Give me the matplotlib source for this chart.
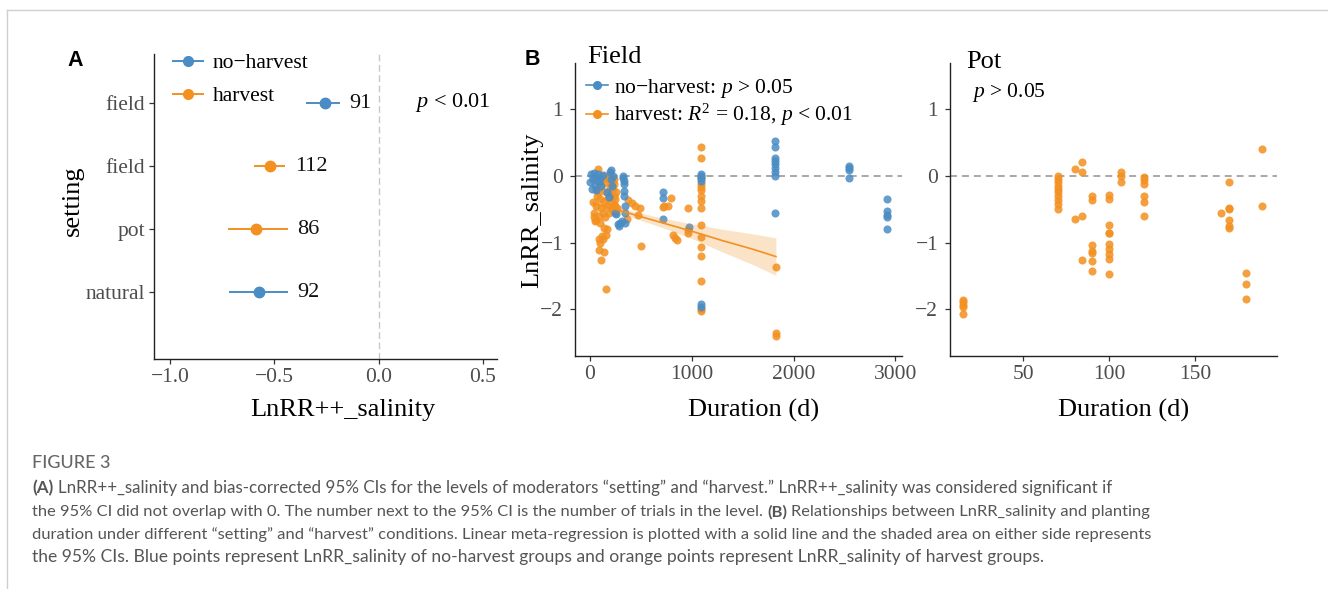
import matplotlib
matplotlib.use("Agg")
import matplotlib.pyplot as plt
from matplotlib.lines import Line2D

plt.rcParams["font.family"] = ["Liberation Serif", "DejaVu Serif"]
plt.rcParams["mathtext.fontset"] = "custom"
plt.rcParams["mathtext.rm"] = "Liberation Serif"
plt.rcParams["mathtext.it"] = "Liberation Serif:italic"
plt.rcParams["lines.scale_dashes"] = False

# ---------------- data ----------------
# Panel A (top to bottom)
a_setting = ["field", "field", "pot", "natural"]
a_group = ["no-harvest", "harvest", "harvest", "no-harvest"]
a_est = [-0.258, -0.519, -0.587, -0.574]
a_lo = [-0.349, -0.596, -0.721, -0.716]
a_hi = [-0.186, -0.449, -0.437, -0.437]
a_n = [91, 112, 86, 92]

# Panel B, Field, no-harvest
field_nh_x = [5, 12, 20, 28, 35, 45, 55, 62, 75, 85, 95, 110, 125,
              170, 190, 200, 205, 210, 215, 225, 250, 260, 280, 290, 300, 310,
              320, 325, 330, 330, 335, 335, 340, 340, 345,
              720, 720, 720, 970, 1095, 1095, 1095, 1095, 1095, 1095,
              1820, 1820, 1820, 1820, 1820, 1820, 1820, 1820, 1820,
              2550, 2550, 2550, 2550, 2920, 2920, 2920, 2920, 2920]
field_nh_y = [-0.10, 0.02, -0.20, -0.05, 0.04, -0.14, -0.02, -0.22, 0.03, -0.10, -0.03, -0.16, 0.01,
              -0.25, -0.32, 0.05, 0.08, -0.05, -0.15, 0.00, -0.55, -0.57, -0.72, -0.75, -0.70, -0.68,
              0.00, -0.03, -0.08, -0.13, -0.23, -0.30, -0.45, -0.55, -0.70,
              -0.24, -0.34, -0.64, -0.77, 0.03, 0.00, -0.04, -0.08, -1.92, -1.97,
              0.52, 0.43, 0.27, 0.22, 0.17, 0.12, 0.06, 0.00, -0.55,
              0.15, 0.11, 0.09, -0.03, -0.35, -0.53, -0.58, -0.61, -0.80]

# Panel B, Field, harvest
field_h_x = [30, 35, 40, 45, 55, 60, 70, 75, 80, 80, 85, 85, 90, 90, 95, 100, 100, 105,
             110, 110, 115, 120, 125, 128, 130, 135, 140, 140, 145, 150, 155, 160, 160,
             165, 170, 175, 180, 190, 195, 200, 205, 210, 215, 220, 230, 240, 245, 250,
             255, 260, 270, 240, 240, 235,
             361, 377, 409, 442, 475, 491, 501,
             720, 727, 769, 799, 819, 835, 851, 966, 966, 966,
             1095, 1095, 1095, 1095, 1095, 1095, 1095, 1095, 1095, 1095, 1095, 1095,
             1095, 1095, 1095, 1095, 1827, 1827, 1827]
field_h_y = [-0.40, -0.55, -0.62, -0.68, -0.45, -0.66, -0.30, -0.20, 0.10, -0.08, -0.95,
             -1.11, -0.25, -0.60, -0.35, -1.00, -0.70, -0.15, -1.26, -0.48, -0.05, -0.90,
             -0.55, -0.94, 0.00, -0.38, -1.14, -0.78, -0.10, -0.62, -0.25, -1.69, -0.89,
             -0.45, -0.80, -0.05, -0.33, -0.55, 0.02, -0.15, -0.40, -0.28, -0.50, -0.10,
             -0.20, -0.05, -0.45, -0.35, -0.25, -0.52, -0.48, -0.12, -0.30, -0.42,
             -0.64, -0.36, -0.41, -0.46, -0.59, -0.49, -1.05,
             -0.47, -0.45, -0.46, -0.34, -0.89, -0.93, -0.96, -0.49, -0.81, -0.86,
             0.43, 0.26, -0.04, -0.12, -0.17, -0.21, -0.30, -0.38, -0.48, -0.73,
             -0.91, -1.07, -1.20, -1.57, -2.00, -2.03, -1.37, -2.36, -2.40]

# regression line and 95% CI band (harvest, field)
fit_x = [30, 250, 450, 700, 1000, 1300, 1600, 1827]
fit_y = [-0.41, -0.50, -0.59, -0.70, -0.83, -0.97, -1.10, -1.21]
fit_lo = [-0.50, -0.55, -0.64, -0.77, -0.94, -1.14, -1.33, -1.49]
fit_hi = [-0.32, -0.45, -0.54, -0.63, -0.72, -0.80, -0.87, -0.93]

# Panel B, Pot (harvest)
pot_x = [15, 15, 15, 15, 15,
         70, 70, 70, 70, 70, 70, 70, 70, 70, 70,
         80, 80, 84, 84, 84, 84,
         90, 90, 90, 90, 90, 90, 90,
         100, 100, 100, 100, 100, 100, 100, 100, 100, 100,
         107, 107, 107,
         120, 120, 120, 120, 120, 120,
         165, 170, 170, 170, 170, 170, 170,
         180, 180, 180, 189, 189]
pot_y = [-1.86, -1.89, -1.93, -1.97, -2.07,
         0.00, -0.05, -0.10, -0.15, -0.20, -0.25, -0.30, -0.37, -0.42, -0.50,
         0.10, -0.65, 0.20, 0.05, -0.60, -1.26,
         -0.30, -0.37, -1.03, -1.12, -1.16, -1.27, -1.43,
         -0.29, -0.35, -0.73, -0.86, -0.86, -1.02, -1.10, -1.17, -1.24, -1.47,
         0.05, 0.00, -0.10,
         -0.02, -0.07, -0.12, -0.30, -0.40, -0.60,
         -0.55, -0.10, -0.49, -0.50, -0.66, -0.75, -0.78,
         -1.45, -1.62, -1.85, 0.40, -0.45]

# ---------------- style ----------------
W, H = 1328, 589
BLUE = "#4A8CC4"
ORANGE = "#F39020"
TICKC = "#4D4D4D"
FS_TICK = 15.5
FS_TITLE = 19
PT_S = 34


def fx(px):
    return px / W


def fy(py):
    return 1 - py / H


fig = plt.figure(figsize=(W / 100, H / 100), dpi=100)

# outer frame
fig.add_artist(Line2D([fx(6.5), fx(6.5)], [fy(9.5), 0], color="#cfcfcf", lw=1.0))
fig.add_artist(Line2D([fx(6.5), 1], [fy(9.5), fy(9.5)], color="#cfcfcf", lw=1.0))


def style_axes(ax):
    for s in ["top", "right"]:
        ax.spines[s].set_visible(False)
    for s in ["left", "bottom"]:
        ax.spines[s].set_linewidth(1.0)
        ax.spines[s].set_color("#222222")
    ax.tick_params(labelsize=FS_TICK, labelcolor=TICKC, length=3.5, width=0.9,
                   color="#333333", pad=3)


def axes_px(l, t, r, b):
    return fig.add_axes([fx(l), fy(b), (r - l) / W, (b - t) / H])


# ---------------- Panel A ----------------
axA = axes_px(154, 54, 497, 359)
style_axes(axA)
ypos = [4, 3, 2, 1]
axA.axvline(0, color="#c8c8c8", lw=1.0, dashes=(4.8, 2.6), zorder=0)
for y, g, e, lo, hi, n in zip(ypos, a_group, a_est, a_lo, a_hi, a_n):
    c = BLUE if g == "no-harvest" else ORANGE
    axA.plot([lo, hi], [y, y], color=c, lw=1.4, solid_capstyle="butt", zorder=2)
    axA.plot([e], [y], "o", color=c, ms=7.5, zorder=3)
    axA.annotate(str(n), xy=(hi, y), xytext=(7, 0), textcoords="offset points",
                 va="center", ha="left", fontsize=FS_TICK + 0.5, color="#111111")
axA.set_xlim(-1.077, 0.567)
axA.set_ylim(-0.06, 4.78)
axA.set_xticks([-1.0, -0.5, 0.0, 0.5])
axA.set_xticklabels(["\u22121.0", "\u22120.5", "0.0", "0.5"])
axA.set_yticks(ypos)
axA.set_yticklabels(a_setting)
fig.text(fx(415), fy(103), "$p$ < 0.01", fontsize=FS_TICK + 0.5, va="center", ha="left")
axA.set_xlabel("LnRR++_salinity", fontsize=FS_TITLE)
axA.xaxis.set_label_coords((343 - 154) / 343, -(410 - 359) / 305)
axA.xaxis.label.set_va("center")
axA.set_ylabel("setting", fontsize=FS_TITLE)
axA.yaxis.set_label_coords((73 - 154) / 343, (359 - 201) / 305)
axA.yaxis.label.set_va("center")
hA = [Line2D([], [], color=BLUE, lw=1.4, marker="o", ms=7),
      Line2D([], [], color=ORANGE, lw=1.4, marker="o", ms=7)]
axA.legend(hA, ["no\u2212harvest", "harvest"], loc="upper left",
           bbox_to_anchor=(fx(173), fy(53)), bbox_transform=fig.transFigure,
           frameon=False, fontsize=FS_TICK, borderpad=0, borderaxespad=0,
           handlelength=1.4, handletextpad=0.45, labelspacing=0.6)
fig.text(fx(67), fy(66), "A", fontsize=15.5, weight="bold", family="Liberation Sans",
         va="baseline", ha="left")

# ---------------- Panel B: Field ----------------
axF = axes_px(575, 63, 902, 356)
style_axes(axF)
axF.axhline(0, color="#9a9a9a", lw=1.2, dashes=(5, 3.6), zorder=0)
axF.scatter(field_h_x, field_h_y, s=PT_S, color=ORANGE, alpha=0.85, lw=0, zorder=2)
axF.scatter(field_nh_x, field_nh_y, s=PT_S, color=BLUE, alpha=0.85, lw=0, zorder=3)
axF.fill_between(fit_x, fit_lo, fit_hi, color=ORANGE, alpha=0.25, lw=0, zorder=4)
axF.plot(fit_x, fit_y, color=ORANGE, lw=1.2, zorder=5)
axF.set_xlim(-147, 3066)
axF.set_ylim(-2.70, 1.69)
axF.set_xticks([0, 1000, 2000, 3000])
axF.set_yticks([-2, -1, 0, 1])
axF.set_yticklabels(["\u22122", "\u22121", "0", "1"])
axF.tick_params(axis="y", pad=5)
axF.set_xlabel("Duration (d)", fontsize=FS_TITLE)
axF.xaxis.set_label_coords((754 - 575) / 327, -(410 - 356) / 293)
axF.xaxis.label.set_va("center")
axF.set_ylabel("LnRR_salinity", fontsize=FS_TITLE)
axF.yaxis.set_label_coords((532 - 575) / 327, (356 - 210) / 293)
axF.yaxis.label.set_va("center")
hF = [Line2D([], [], color=BLUE, lw=1.2, marker="o", ms=5.5),
      Line2D([], [], color=ORANGE, lw=1.2, marker="o", ms=5.5)]
axF.legend(hF, ["no\u2212harvest: $p$ > 0.05", "harvest: $R^2$ = 0.18, $p$ < 0.01"],
           loc="upper left", bbox_to_anchor=(fx(586), fy(77)), bbox_transform=fig.transFigure,
           frameon=False, fontsize=FS_TICK, borderpad=0, borderaxespad=0,
           handlelength=1.0, handletextpad=0.3, labelspacing=0.1)
fig.text(fx(587), fy(63), "Field", fontsize=FS_TITLE, va="baseline", ha="left")
fig.text(fx(525), fy(65), "B", fontsize=15.5, weight="bold", family="Liberation Sans",
         va="baseline", ha="left")

# ---------------- Panel B: Pot ----------------
axP = axes_px(950, 63, 1277, 356)
style_axes(axP)
axP.axhline(0, color="#9a9a9a", lw=1.2, dashes=(5, 3.6), zorder=0)
axP.scatter(pot_x, pot_y, s=PT_S, color=ORANGE, alpha=0.85, lw=0, zorder=2)
axP.set_xlim(7.2, 197.8)
axP.set_ylim(-2.70, 1.69)
axP.set_xticks([50, 100, 150])
axP.set_yticks([-2, -1, 0, 1])
axP.set_yticklabels(["\u22122", "\u22121", "0", "1"])
axP.tick_params(axis="y", pad=5)
axP.set_xlabel("Duration (d)", fontsize=FS_TITLE)
axP.xaxis.set_label_coords((1124 - 950) / 327, -(410 - 356) / 293)
axP.xaxis.label.set_va("center")
fig.text(fx(966), fy(68), "Pot", fontsize=FS_TITLE, va="baseline", ha="left")
fig.text(fx(972), fy(93), "$p$ > 0.05", fontsize=FS_TICK, va="center", ha="left")

# ---------------- caption ----------------
CAPF = "Lato"
CAPC = "#555555"
renderer = fig.canvas.get_renderer()

fig.text(fx(32), fy(463), "FIGURE 3", fontsize=13, family=CAPF, weight="medium",
         color="#666666", va="center", ha="left")

caption_lines = [
    ([("(A)", "bold"), ("LnRR++_salinity and bias-corrected 95% CIs for the levels of moderators "
                        "\u201csetting\u201d and \u201charvest.\u201d LnRR++_salinity was considered significant if", "normal")],
     488, 1083),
    ([("the 95% CI did not overlap with 0. The number next to the 95% CI is the number of trials in the level.", "normal"),
      ("(B)", "bold"),
      ("Relationships between LnRR_salinity and planting", "normal")], 512, 1117),
    ([("duration under different \u201csetting\u201d and \u201charvest\u201d conditions. Linear meta-regression "
       "is plotted with a solid line and the shaded area on either side represents", "normal")], 535, 1117),
    ([("the 95% CIs. Blue points represent LnRR_salinity of no-harvest groups and orange points "
       "represent LnRR_salinity of harvest groups.", "normal")], 557, 1011),
]


def place_line(segs, y, fs):
    arts = []
    x = 32
    for i, (s, w) in enumerate(segs):
        if i > 0:
            x += fs * 100 / 72 * 0.25
        t = fig.text(fx(x), fy(y), s, fontsize=fs, family=CAPF, weight=w, color=CAPC,
                     va="center", ha="left")
        x += t.get_window_extent(renderer).width
        arts.append(t)
    return arts, x - 32


for segs, y, target in caption_lines:
    arts, wdt = place_line(segs, y, 11.5)
    for a in arts:
        a.remove()
    place_line(segs, y, 11.5 * target / wdt)

fig.savefig("out.png", dpi=100)
